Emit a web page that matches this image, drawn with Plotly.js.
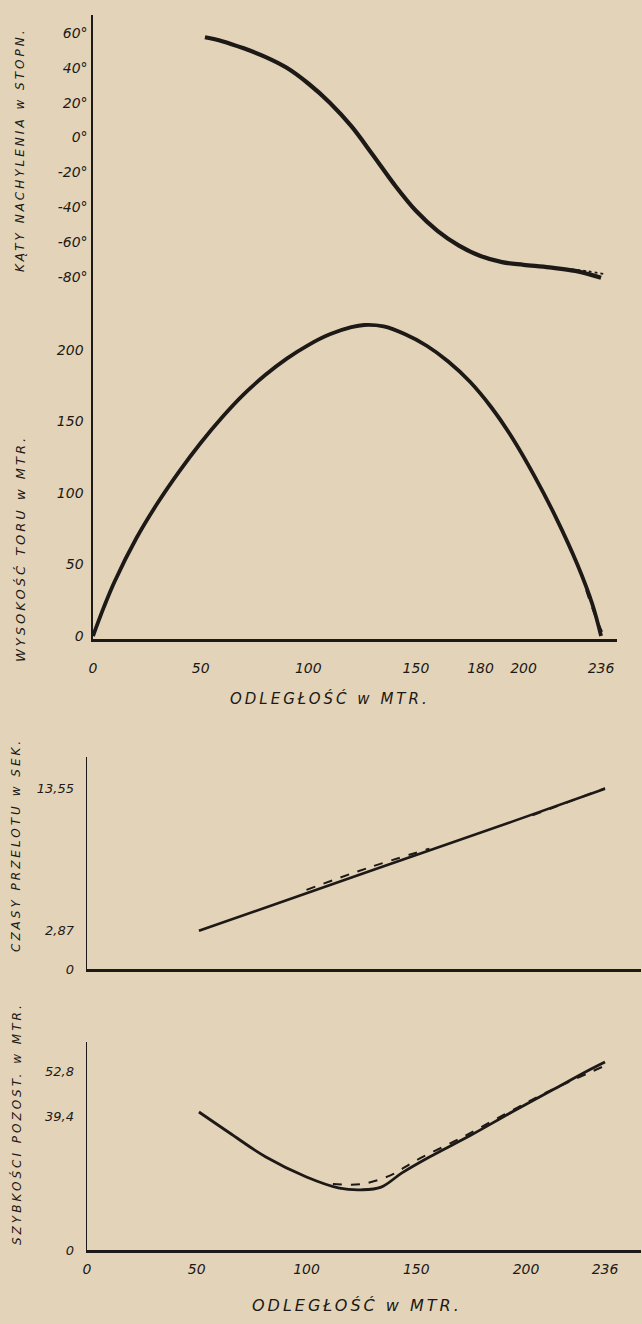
<!DOCTYPE html>
<html>
<head>
<meta charset="utf-8">
<script src="https://cdn.plot.ly/plotly-3.0.1.min.js"></script>
<style>
  html, body { margin: 0; padding: 0; background: #e3d4b9; }
  #chart { width: 642px; height: 1324px; }
  .annotation-text { letter-spacing: 3px; }
</style>
</head>
<body>
<div id="chart"></div>
<script>
// ---- data (distance in metres) ----
// Panel 1: angle of inclination (degrees)
const angleX = [52, 60, 70, 80, 90, 100, 110, 120, 130, 140, 150, 160, 170, 180, 190, 200, 212, 224, 236];
const angleY = [57.5, 55.3, 51.2, 46.3, 40, 31, 20, 6.5, -10, -27, -42, -53.5, -62, -68, -71.5, -73, -74.5, -76.5, -80.5];
const angleAltX = [222, 230, 237];
const angleAltY = [-75.5, -76.8, -78.2];

// Panel 2: trajectory height (m)
const heightX = [0, 5, 10, 20, 30, 40, 50, 60, 70, 80, 90, 100, 110, 120, 126, 135, 145, 155, 165, 175, 185, 195, 205, 215, 225, 232, 236];
const heightY = [0, 20, 38, 68, 93, 115, 135, 153, 169, 182.5, 194, 203.5, 211, 216, 217.5, 216.5, 211, 203, 192, 178, 160, 138, 112, 83, 50, 22, 0];
const heightAltX = [229, 233, 237.5];
const heightAltY = [32, 15, 0];

// Panel 3: time of flight (s)
const timeX = [51, 100, 147, 194, 236];
const timeY = [2.87, 5.7, 8.4, 11.1, 13.55];
const timeAltX = [100, 128, 156, null, 203, 220, 236];
const timeAltY = [5.95, 7.6, 9.05, null, 11.55, 12.6, 13.6];

// Panel 4: remaining velocity (m/s)
const speedX = [51, 65, 81.5, 100, 115, 125, 134, 143.5, 156, 175, 193.6, 212, 229, 236];
const speedY = [40.8, 34.6, 27.5, 21.6, 18.3, 17.8, 18.6, 22.8, 27.5, 34, 40.8, 47.3, 53.3, 55.6];
const speedAltX = [112, 125, 138, 150, 170, 190, 210, 236];
const speedAltY = [19.5, 19.5, 22, 26.5, 33, 40, 46.8, 54.5];

// ticks
const angleTicks = [60, 40, 20, 0, -20, -40, -60, -80];
const angleTickText = ['60°', '40°', '20°', '0°', '-20°', '-40°', '-60°', '-80°'];
const heightTicks = [0, 50, 100, 150, 200];
const distTicksTop = [0, 50, 100, 150, 180, 200, 236];
const timeTicks = [0, 2.87, 13.55];
const timeTickText = ['0', '2,87', '13,55'];
const speedTicks = [0, 39.4, 52.8];
const speedTickText = ['0', '39,4', '52,8'];
const distTicksBottom = [0, 50, 100, 150, 200, 236];

// ---- layout helpers ----
const W = 642, H = 1324;
const px = v => v / W;
const py = v => 1 - v / H;
const ink = '#1d1916';
const bg = '#e3d4b9';
const FAM = 'DejaVu Sans, sans-serif';
const tickFont = { family: FAM, size: 14, color: ink, style: 'italic' };

function line(x, y, xa, ya, w, dash) {
  return { x: x, y: y, xaxis: xa, yaxis: ya, type: 'scatter', mode: 'lines',
           line: { color: ink, width: w, shape: 'spline', smoothing: 1, dash: dash || 'solid' },
           connectgaps: false, hoverinfo: 'skip' };
}

const traces = [
  line(angleX, angleY, 'x', 'y', 4.2),
  line(angleAltX, angleAltY, 'x', 'y', 1.8, 'dot'),
  line(heightX, heightY, 'x2', 'y2', 3.8),
  line(heightAltX, heightAltY, 'x2', 'y2', 1.6, 'dash'),
  line(timeX, timeY, 'x3', 'y3', 2.6),
  line(timeAltX, timeAltY, 'x3', 'y3', 2, 'dash'),
  line(speedX, speedY, 'x4', 'y4', 2.8),
  line(speedAltX, speedAltY, 'x4', 'y4', 2, 'dash')
];

const baseAxis = { showgrid: false, zeroline: false, fixedrange: true, linecolor: ink };

const layout = {
  width: W, height: H,
  margin: { l: 0, r: 0, t: 0, b: 0, pad: 0 },
  paper_bgcolor: bg, plot_bgcolor: bg,
  showlegend: false,
  // panel 1
  xaxis: Object.assign({}, baseAxis, { domain: [px(93), px(617)], range: [0, 243.4], visible: false, anchor: 'y' }),
  yaxis: Object.assign({}, baseAxis, { domain: [py(300), py(15)], range: [-93.2, 70.3], anchor: 'x',
           showline: true, linewidth: 1.6, tickvals: angleTicks, ticktext: angleTickText,
           ticks: 'outside', ticklen: 1, tickcolor: 'rgba(0,0,0,0)', tickfont: tickFont }),
  // panel 2
  xaxis2: Object.assign({}, baseAxis, { domain: [px(93), px(617)], range: [0, 243.4], anchor: 'y2',
           showline: true, linewidth: 3, tickvals: distTicksTop, ticktext: distTicksTop.map(String),
           ticks: 'outside', ticklen: 14, tickcolor: 'rgba(0,0,0,0)', tickfont: tickFont }),
  yaxis2: Object.assign({}, baseAxis, { domain: [py(639), py(300)], range: [-2.1, 235], anchor: 'x2',
           showline: true, linewidth: 1.6, tickvals: heightTicks, ticktext: heightTicks.map(String),
           ticks: 'outside', ticklen: 5, tickcolor: 'rgba(0,0,0,0)', tickfont: tickFont }),
  // panel 3
  xaxis3: Object.assign({}, baseAxis, { domain: [px(87), px(641)], range: [0, 252.4], anchor: 'y3',
           showline: true, linewidth: 2.6, showticklabels: false, ticks: '' }),
  yaxis3: Object.assign({}, baseAxis, { domain: [py(969), py(757)], range: [0, 15.94], anchor: 'x3',
           showline: true, linewidth: 1.4, tickvals: timeTicks, ticktext: timeTickText,
           ticks: 'outside', ticklen: 9, tickcolor: 'rgba(0,0,0,0)', tickfont: Object.assign({}, tickFont, { size: 13 }) }),
  // panel 4
  xaxis4: Object.assign({}, baseAxis, { domain: [px(87), px(641)], range: [0, 252.4], anchor: 'y4',
           showline: true, linewidth: 2.6, tickvals: distTicksBottom, ticktext: distTicksBottom.map(String),
           ticks: 'outside', ticklen: 5, tickcolor: 'rgba(0,0,0,0)', tickfont: tickFont }),
  yaxis4: Object.assign({}, baseAxis, { domain: [py(1250), py(1042)], range: [0, 61.5], anchor: 'x4',
           showline: true, linewidth: 1.4, tickvals: speedTicks, ticktext: speedTickText,
           ticks: 'outside', ticklen: 9, tickcolor: 'rgba(0,0,0,0)', tickfont: Object.assign({}, tickFont, { size: 13 }) }),
  annotations: [
    { text: 'KĄTY NACHYLENIA w STOPN.', x: px(20), y: py(150), textangle: -90, size: 12 },
    { text: 'WYSOKOŚĆ TORU w MTR.', x: px(20), y: py(549), textangle: -90, size: 13 },
    { text: 'ODLEGŁOŚĆ w MTR.', x: px(330), y: py(698), textangle: 0, size: 15 },
    { text: 'CZASY PRZELOTU w SEK.', x: px(16), y: py(845), textangle: -90, size: 12 },
    { text: 'SZYBKOŚCI POZOST. w MTR.', x: px(16), y: py(1124), textangle: -90, size: 12 },
    { text: 'ODLEGŁOŚĆ w MTR.', x: px(357), y: py(1305), textangle: 0, size: 16 }
  ].map(a => ({ text: a.text, x: a.x, y: a.y, xref: 'paper', yref: 'paper', showarrow: false,
                xanchor: 'center', yanchor: 'middle', textangle: a.textangle,
                font: { family: FAM, size: a.size, color: ink, style: 'italic' } }))
};

Plotly.newPlot('chart', traces, layout, { staticPlot: true, displayModeBar: false });
</script>
</body>
</html>
